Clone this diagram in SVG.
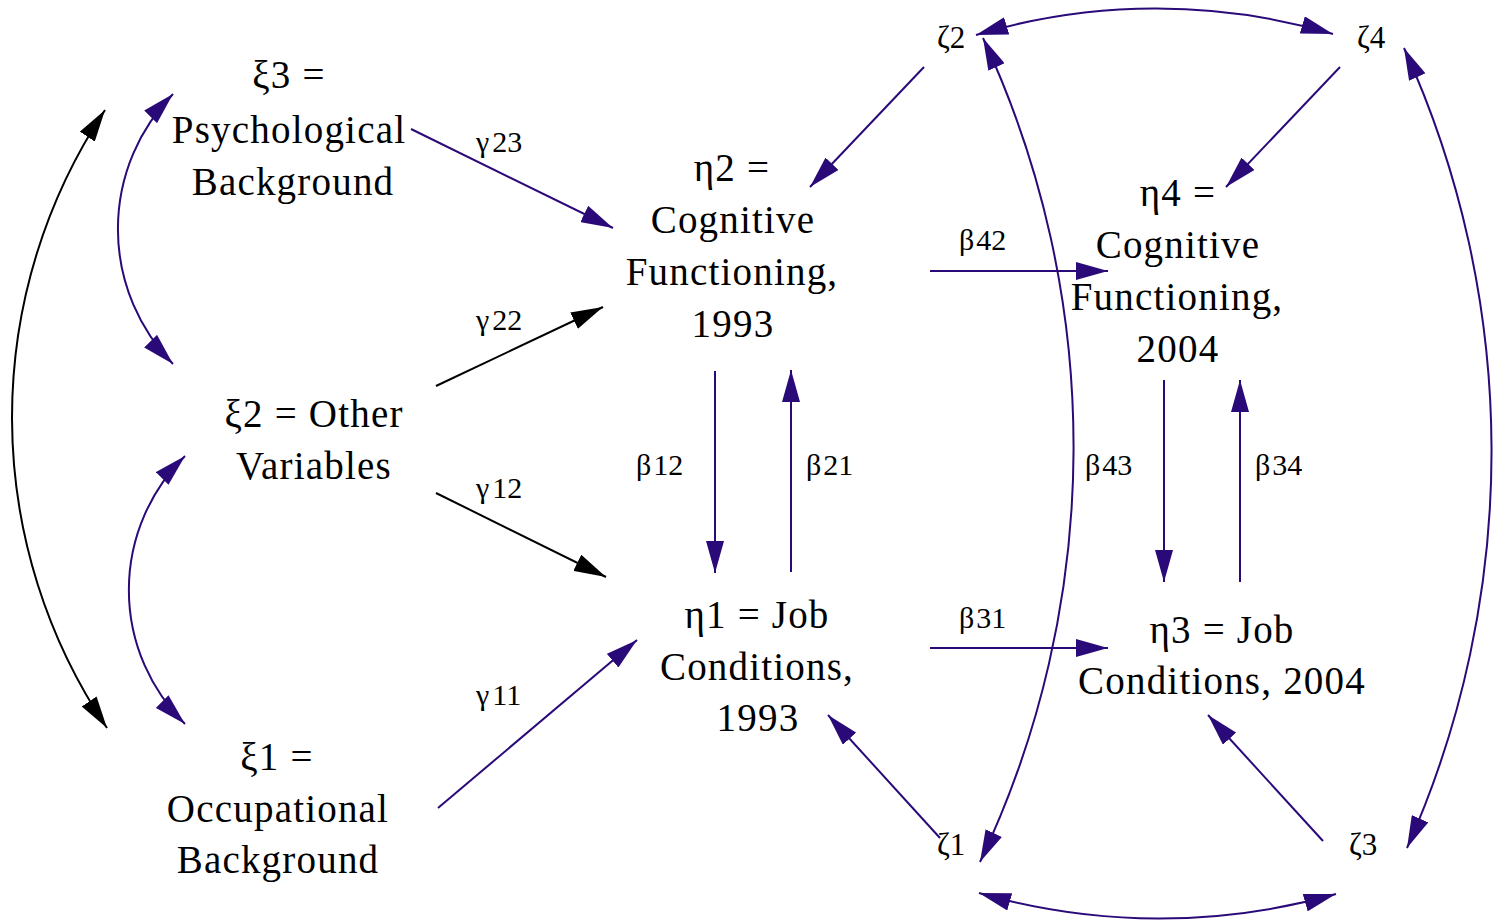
<svg xmlns="http://www.w3.org/2000/svg" width="1504" height="921" viewBox="0 0 1504 921">
<style>
  .n { font-family: "Liberation Serif", "DejaVu Serif", serif; font-size: 39px; letter-spacing: 1.2px; fill: #000; text-anchor: middle; }
  .l { font-family: "Liberation Serif", "DejaVu Serif", serif; font-size: 30px; fill: #000; }
  .z { font-family: "Liberation Serif", "DejaVu Serif", serif; font-size: 31px; fill: #000; }
  .p { stroke: #2a0a78; stroke-width: 2; fill: none; }
  .k { stroke: #000; stroke-width: 2; fill: none; }
  .pa { marker-end: url(#ap); }
  .pd { marker-start: url(#ap); marker-end: url(#ap); }
  .ka { marker-end: url(#ak); }
  .kd { marker-start: url(#ak); marker-end: url(#ak); }
</style>
<defs>
  <marker id="ap" viewBox="0 0 32 18" refX="32" refY="9" markerWidth="32" markerHeight="18" markerUnits="userSpaceOnUse" orient="auto-start-reverse">
    <path d="M0,0 L32,9 L0,18 Z" fill="#2a0a78"/>
  </marker>
  <marker id="ak" viewBox="0 0 32 18" refX="32" refY="9" markerWidth="32" markerHeight="18" markerUnits="userSpaceOnUse" orient="auto-start-reverse">
    <path d="M0,0 L32,9 L0,18 Z" fill="#000"/>
  </marker>
</defs>
<rect width="1504" height="921" fill="#fff"/>

<g id="connectors">
  <path class="p pa" d="M411,129 L613,228"/>
  <path class="k ka" d="M436,386 L603,307"/>
  <path class="k ka" d="M436,493 L606,577"/>
  <path class="p pa" d="M438,808 L637,640"/>
  <path class="p pa" d="M715,371 L715,573"/>
  <path class="p pa" d="M791,572 L791,370"/>
  <path class="p pa" d="M930,271 L1108,271"/>
  <path class="p pa" d="M930,648 L1108,648"/>
  <path class="p pa" d="M1164,380 L1164,582"/>
  <path class="p pa" d="M1240,582 L1240,380"/>
  <path class="p pa" d="M924,67 L810,187"/>
  <path class="p pa" d="M1340,67 L1226,187"/>
  <path class="p pa" d="M940,838 L828,715"/>
  <path class="p pa" d="M1323,841 L1208,715"/>
  <path class="p pd" d="M976,35 A626,626 0 0 1 1333,34"/>
  <path class="p pd" d="M979,893 A650,650 0 0 0 1336,894"/>
  <path class="p pd" d="M980,862 A968,968 0 0 0 983,38"/>
  <path class="p pd" d="M1407,848 A973,973 0 0 0 1404,48"/>
  <path class="k kd" d="M105,110 A555,555 0 0 0 107,728"/>
  <path class="p pd" d="M173,94 A193,193 0 0 0 173,364"/>
  <path class="p pd" d="M185,456 A188,188 0 0 0 185,724"/>
</g>

<g id="xi3">
  <text class="n" x="289" y="88">ξ3 =</text>
  <text class="n" x="289" y="143">Psychological</text>
  <text class="n" x="293" y="195">Background</text>
</g>
<g id="xi2">
  <text class="n" x="314" y="427">ξ2 = Other</text>
  <text class="n" x="314" y="479">Variables</text>
</g>
<g id="xi1">
  <text class="n" x="277" y="770">ξ1 =</text>
  <text class="n" x="278" y="822">Occupational</text>
  <text class="n" x="278" y="873">Background</text>
</g>
<g id="eta2">
  <text class="n" x="732" y="181">η2 =</text>
  <text class="n" x="733" y="233">Cognitive</text>
  <text class="n" x="732" y="285">Functioning,</text>
  <text class="n" x="733" y="337">1993</text>
</g>
<g id="eta4">
  <text class="n" x="1178" y="206">η4 =</text>
  <text class="n" x="1178" y="258">Cognitive</text>
  <text class="n" x="1177" y="310">Functioning,</text>
  <text class="n" x="1178" y="362">2004</text>
</g>
<g id="eta1">
  <text class="n" x="757" y="628">η1 = Job</text>
  <text class="n" x="757" y="680">Conditions,</text>
  <text class="n" x="758" y="731">1993</text>
</g>
<g id="eta3">
  <text class="n" x="1222" y="643">η3 = Job</text>
  <text class="n" x="1222" y="694">Conditions, 2004</text>
</g>
<g id="zeta2"><text class="z" x="937" y="48">ζ2</text></g>
<g id="zeta4"><text class="z" x="1357" y="48">ζ4</text></g>
<g id="zeta1"><text class="z" x="937" y="855">ζ1</text></g>
<g id="zeta3"><text class="z" x="1349" y="855">ζ3</text></g>

<g id="labels">
  <text class="l" x="476" y="152">γ<tspan dx="3">23</tspan></text>
  <text class="l" x="476" y="330">γ<tspan dx="3">22</tspan></text>
  <text class="l" x="476" y="498">γ<tspan dx="3">12</tspan></text>
  <text class="l" x="476" y="705">γ<tspan dx="3">11</tspan></text>
  <text class="l" x="959" y="250">β<tspan dx="2">42</tspan></text>
  <text class="l" x="959" y="628">β<tspan dx="2">31</tspan></text>
  <text class="l" x="636" y="475">β<tspan dx="2">12</tspan></text>
  <text class="l" x="806" y="475">β<tspan dx="2">21</tspan></text>
  <text class="l" x="1085" y="475">β<tspan dx="2">43</tspan></text>
  <text class="l" x="1255" y="475">β<tspan dx="2">34</tspan></text>
</g>
</svg>
